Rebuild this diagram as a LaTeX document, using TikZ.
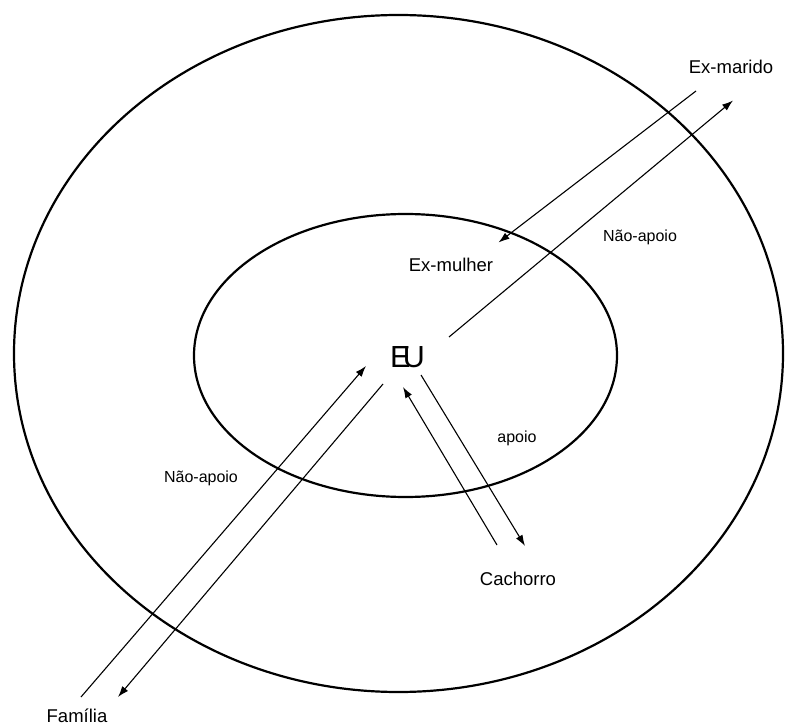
\documentclass[tikz,border=0pt]{standalone}
\usepackage{fontspec}
\setmainfont{Liberation Sans}
\usetikzlibrary{arrows.meta}
\begin{document}
\begin{tikzpicture}[x=1pt,y=-1pt,
  ring/.style={line width=2.2pt},
  rel/.style={line width=1.1pt,-{Latex[length=11pt,width=7.5pt]}},
  who/.style={inner sep=0pt,font=\fontsize{18.5}{18.5}\selectfont},
  tag/.style={inner sep=0pt,font=\fontsize{16}{16}\selectfont}]
\useasboundingbox (0,0) rectangle (787,727);

% the two circles of relationships
\draw[ring] (398.5,353.5) ellipse [x radius=384.5, y radius=338.5];
\draw[ring] (405.5,355.5) ellipse [x radius=211.5, y radius=141.5];

% people
\node[inner sep=0pt,anchor=base,font=\fontsize{30.5}{30.5}\selectfont] (eu) at (407.5,367) {E\kern-7.5pt U};
\node[who,anchor=base] (exmarido) at (731,74) {Ex-marido};
\node[who,anchor=base] (exmulher) at (451,272) {Ex-mulher};
\node[who,anchor=base] (cachorro) at (518,585) {Cachorro};
\node[who,anchor=base] (familia) at (77,722) {Família};

% relation labels
\node[tag,anchor=base] (naoapoioA) at (640,242) {Não-apoio};
\node[tag,anchor=base] (apoio) at (517,442) {apoio};
\node[tag,anchor=base] (naoapoioB) at (201,482) {Não-apoio};

% arrow end points
\coordinate (m1) at (696,91);
\coordinate (m2) at (498.5,242.5);
\coordinate (m3) at (449,337);
\coordinate (m4) at (733,100.5);
\coordinate (f1) at (81,697);
\coordinate (f2) at (366,366);
\coordinate (f3) at (383,384);
\coordinate (f4) at (118,697);
\coordinate (c1) at (497,545);
\coordinate (c2) at (403,387);
\coordinate (c3) at (421,375);
\coordinate (c4) at (525,546);

% arrows
\draw[rel] (m1) -- (m2);
\draw[rel] (m3) -- (m4);
\draw[rel] (f1) -- (f2);
\draw[rel] (f3) -- (f4);
\draw[rel] (c1) -- (c2);
\draw[rel] (c3) -- (c4);
\end{tikzpicture}
\end{document}
